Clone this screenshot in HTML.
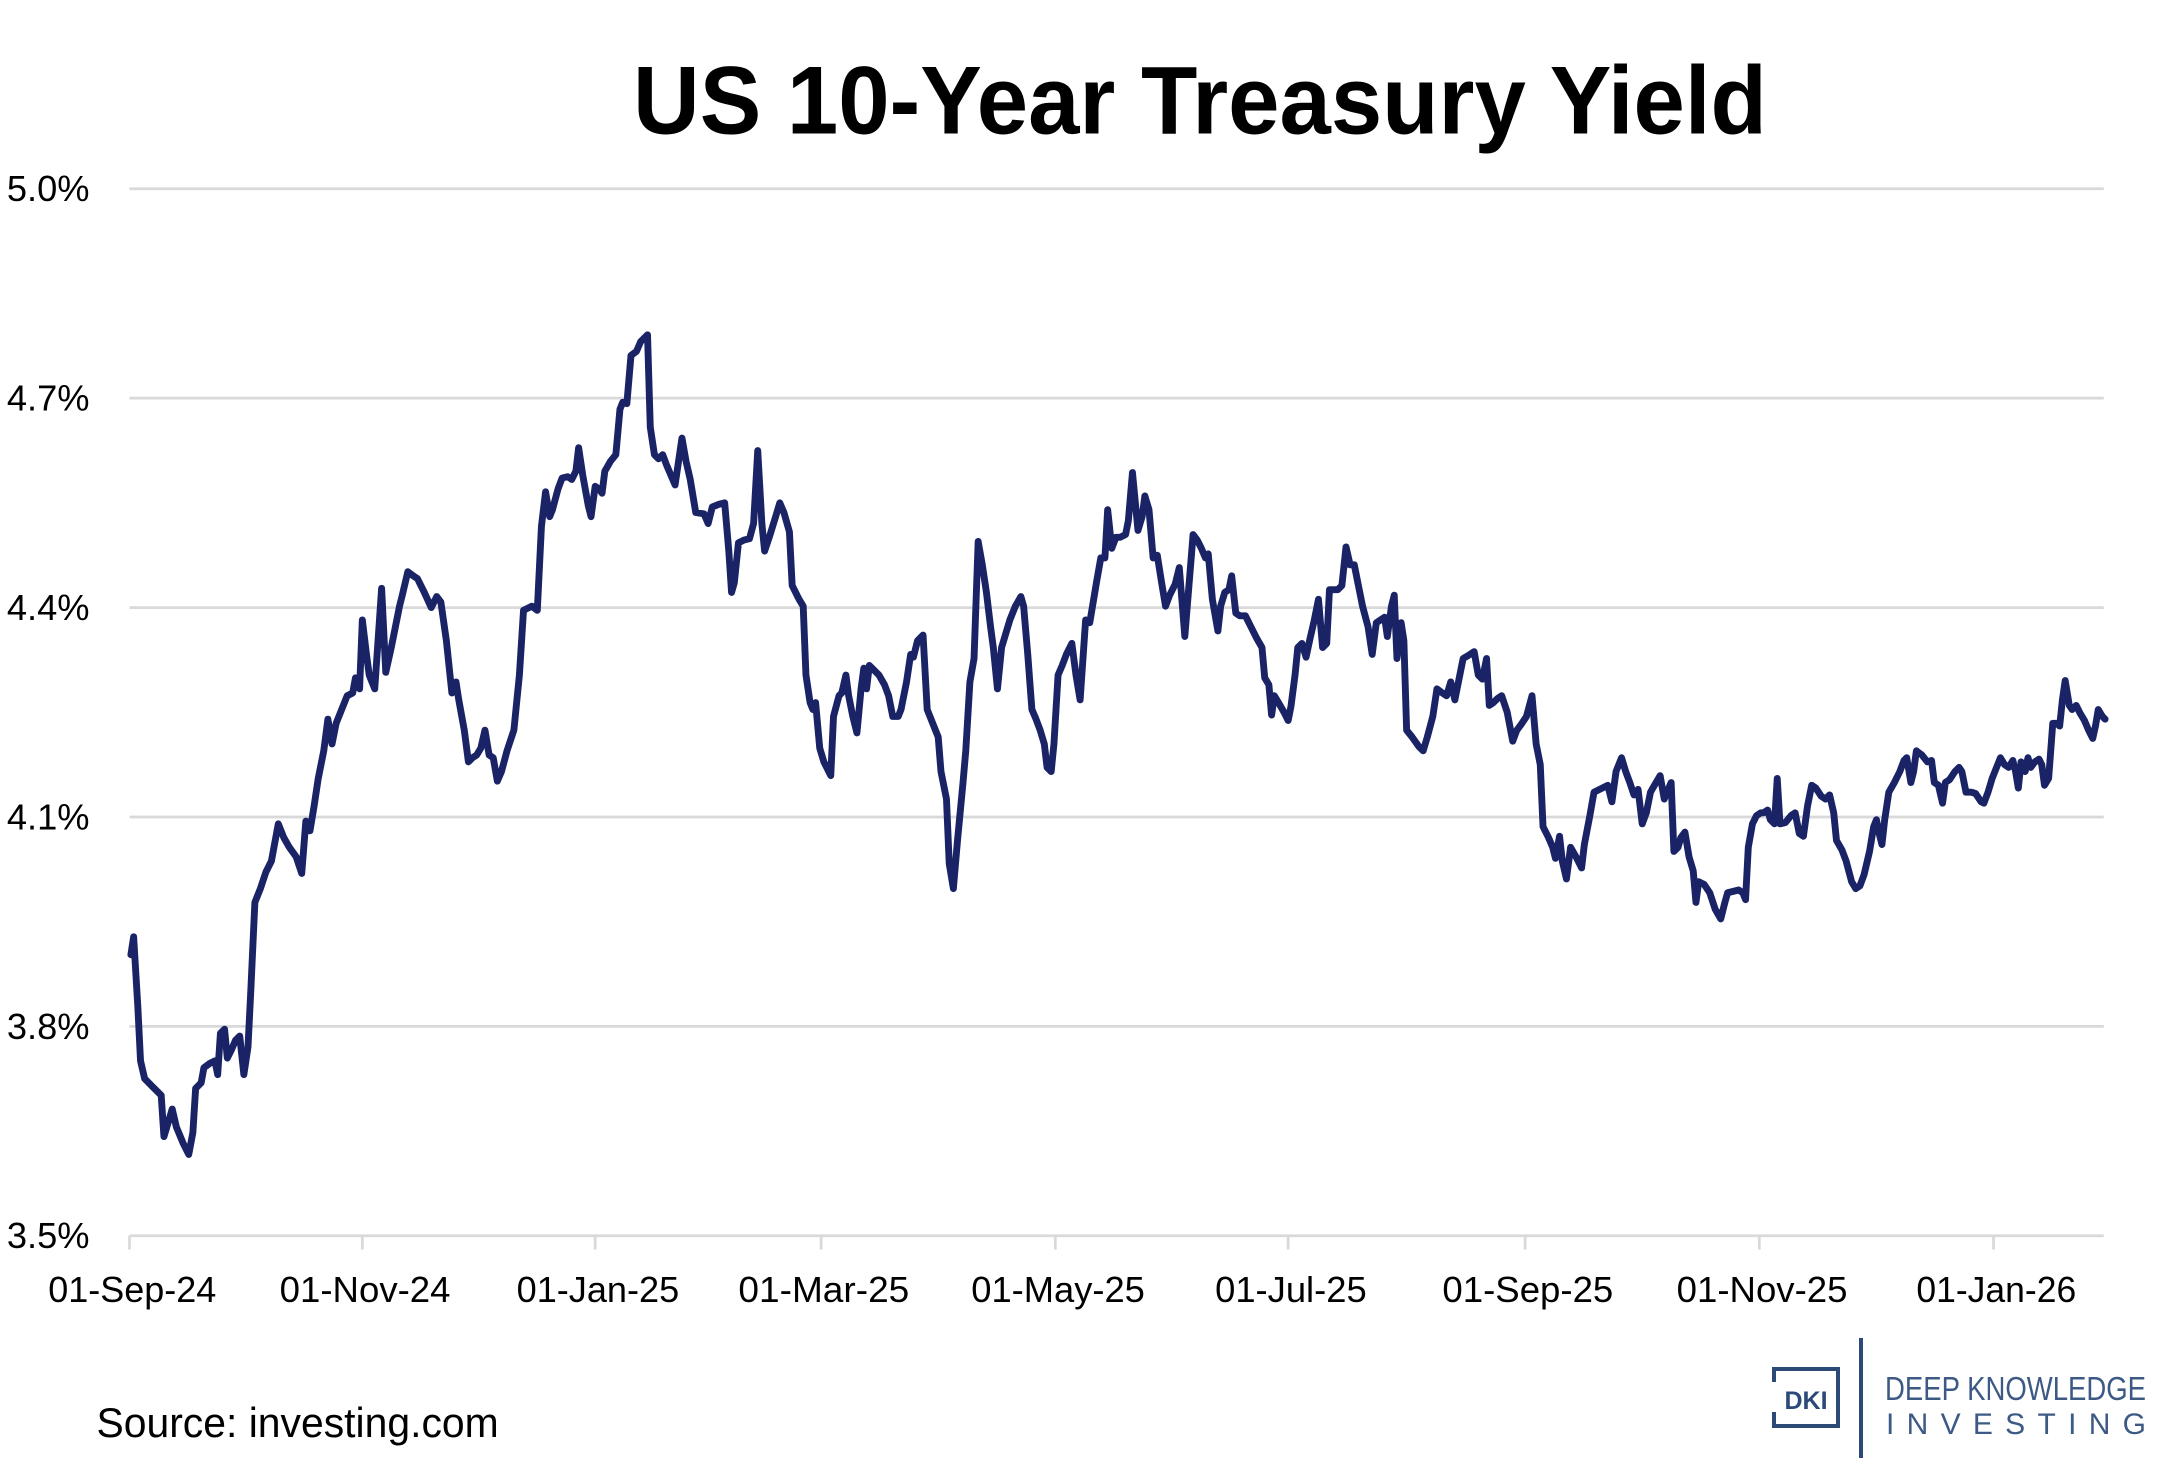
<!DOCTYPE html>
<html><head><meta charset="utf-8"><style>
html,body{margin:0;padding:0;background:#fff;width:2160px;height:1465px;overflow:hidden}
svg{display:block}
text{font-family:"Liberation Sans",sans-serif}
</style></head><body>
<svg width="2160" height="1465" viewBox="0 0 2160 1465" xmlns="http://www.w3.org/2000/svg">
<g transform="scale(1.3777)">
<text x="871" y="97" text-anchor="middle" font-size="70" font-weight="bold" textLength="823" lengthAdjust="spacingAndGlyphs" fill="#000">US 10-Year Treasury Yield</text>
<g stroke="#d9d9d9" stroke-width="2">
<line x1="94" y1="137" x2="1527" y2="137"/>
<line x1="94" y1="289" x2="1527" y2="289"/>
<line x1="94" y1="441" x2="1527" y2="441"/>
<line x1="94" y1="593" x2="1527" y2="593"/>
<line x1="94" y1="745" x2="1527" y2="745"/>
<line x1="94" y1="897" x2="1527" y2="897"/>
<line x1="94" y1="897" x2="94" y2="907"/>
<line x1="263" y1="897" x2="263" y2="907"/>
<line x1="432" y1="897" x2="432" y2="907"/>
<line x1="596" y1="897" x2="596" y2="907"/>
<line x1="766" y1="897" x2="766" y2="907"/>
<line x1="935" y1="897" x2="935" y2="907"/>
<line x1="1107" y1="897" x2="1107" y2="907"/>
<line x1="1277" y1="897" x2="1277" y2="907"/>
<line x1="1447" y1="897" x2="1447" y2="907"/>
</g>
<g font-size="26" fill="#000">
<text x="5" y="146" textLength="60" lengthAdjust="spacingAndGlyphs">5.0%</text>
<text x="5" y="298" textLength="60" lengthAdjust="spacingAndGlyphs">4.7%</text>
<text x="5" y="450" textLength="60" lengthAdjust="spacingAndGlyphs">4.4%</text>
<text x="5" y="602" textLength="60" lengthAdjust="spacingAndGlyphs">4.1%</text>
<text x="5" y="754" textLength="60" lengthAdjust="spacingAndGlyphs">3.8%</text>
<text x="5" y="906" textLength="60" lengthAdjust="spacingAndGlyphs">3.5%</text>
</g>
<g font-size="26" fill="#000" text-anchor="middle">
<text x="96" y="945" textLength="122" lengthAdjust="spacingAndGlyphs">01-Sep-24</text>
<text x="265" y="945" textLength="124" lengthAdjust="spacingAndGlyphs">01-Nov-24</text>
<text x="434" y="945" textLength="118" lengthAdjust="spacingAndGlyphs">01-Jan-25</text>
<text x="598" y="945" textLength="124" lengthAdjust="spacingAndGlyphs">01-Mar-25</text>
<text x="768" y="945" textLength="126" lengthAdjust="spacingAndGlyphs">01-May-25</text>
<text x="937" y="945" textLength="110" lengthAdjust="spacingAndGlyphs">01-Jul-25</text>
<text x="1109" y="945" textLength="124" lengthAdjust="spacingAndGlyphs">01-Sep-25</text>
<text x="1279" y="945" textLength="124" lengthAdjust="spacingAndGlyphs">01-Nov-25</text>
<text x="1449" y="945" textLength="116" lengthAdjust="spacingAndGlyphs">01-Jan-26</text>
</g>
<text x="70" y="1043" font-size="30" fill="#000" textLength="292" lengthAdjust="spacingAndGlyphs">Source: investing.com</text>
<polyline fill="none" stroke="#1a2366" stroke-width="5" stroke-linejoin="round" stroke-linecap="round" points="95,693 97,680 100,730 102,770 105,783 110,788 117,795 119,825 122,815 125,805 128,818 133,830 137,838 140,822 142,790 146,786 148,775 152,772 156,770 158,780 160,750 163,747 165,768 168,762 171,755 174,752 177,780 180,760 182,720 185,655 189,645 193,633 197,625 202,598 206,608 210,615 215,622 219,634 222,596 225,603 228,585 231,565 235,545 238,522 241,540 244,525 248,515 252,505 256,503 258,492 261,500 263,450 266,475 268,490 272,500 277,427 280,488 284,470 290,440 292,432 296,415 300,418 303,420 308,430 313,441 317,433 320,437 324,465 328,503 331,495 333,508 337,530 340,553 343,550 346,548 349,543 352,530 355,548 358,550 361,567 364,560 368,545 373,530 377,490 380,443 386,440 390,443 393,382 396,357 399,375 401,370 405,355 408,347 412,346 415,348 418,342 420,325 423,345 427,367 429,375 432,353 435,355 437,358 439,342 443,335 447,330 450,297 452,292 455,293 458,258 462,255 465,248 469,244 470,243 472,310 475,330 478,333 481,330 484,338 487,345 490,352 495,318 498,335 501,348 505,372 511,373 514,380 517,368 522,366 526,365 529,400 531,430 533,423 536,394 540,392 544,391 547,380 550,327 553,380 555,400 559,388 563,375 566,365 569,372 573,386 575,425 580,435 583,440 585,490 588,510 590,515 592,510 595,543 598,553 603,563 605,520 609,505 611,503 614,490 616,505 619,520 622,532 625,500 627,485 629,500 631,483 635,487 638,490 642,497 645,505 648,520 652,520 654,515 658,495 661,475 663,477 666,465 670,461 673,515 677,525 681,535 683,560 687,580 689,627 692,645 695,610 699,568 701,545 704,495 707,478 710,393 713,410 716,430 719,455 721,470 724,500 727,470 730,460 733,450 737,440 741,433 743,440 746,475 749,515 752,522 755,530 758,540 760,557 763,560 765,540 768,490 771,483 774,475 778,467 781,490 784,508 788,450 791,452 793,440 796,422 799,405 802,405 804,370 807,398 810,390 813,390 817,388 819,378 822,343 826,385 829,375 831,360 834,370 837,405 840,403 843,422 846,440 849,432 853,424 856,412 860,462 863,425 866,388 869,392 872,398 875,405 877,402 880,435 884,458 886,440 889,430 892,428 894,418 897,445 900,447 904,447 908,455 912,463 916,470 918,492 921,497 923,519 925,505 928,510 932,517 935,523 937,513 940,490 942,470 945,467 948,477 951,463 954,450 957,435 960,470 963,467 965,428 968,428 971,428 974,425 977,397 980,410 983,410 986,425 989,440 993,455 996,475 999,452 1002,450 1005,448 1007,462 1010,440 1012,432 1014,478 1017,452 1019,465 1021,530 1025,535 1030,542 1033,545 1036,535 1040,520 1043,500 1047,503 1050,505 1053,495 1056,508 1059,493 1062,478 1067,475 1070,473 1073,490 1076,493 1079,478 1081,512 1084,510 1087,507 1090,505 1094,517 1098,538 1101,530 1104,526 1108,520 1112,505 1115,540 1118,555 1120,600 1124,608 1127,615 1129,623 1132,607 1134,625 1137,638 1140,615 1144,622 1148,630 1150,613 1154,592 1157,575 1163,572 1167,570 1170,582 1173,560 1177,550 1180,560 1183,568 1186,577 1189,573 1192,598 1195,590 1198,575 1202,568 1205,563 1208,580 1210,575 1213,568 1215,618 1218,615 1220,608 1223,604 1226,622 1229,632 1231,655 1233,640 1237,642 1241,648 1245,660 1249,667 1252,655 1254,648 1258,647 1262,646 1265,648 1267,653 1269,615 1272,598 1275,592 1278,590 1280,590 1283,588 1285,595 1288,598 1290,565 1292,598 1296,597 1300,592 1303,590 1306,605 1309,607 1312,585 1315,570 1318,572 1322,578 1325,580 1328,577 1331,590 1333,610 1337,617 1340,625 1344,640 1347,645 1350,643 1353,635 1357,618 1360,600 1362,595 1364,605 1366,613 1368,595 1371,575 1375,568 1379,560 1382,552 1384,550 1387,568 1389,560 1391,545 1395,548 1399,553 1402,552 1404,568 1407,570 1410,583 1412,568 1415,566 1419,560 1422,557 1424,560 1427,575 1431,575 1434,576 1438,582 1440,583 1443,575 1446,565 1450,555 1452,550 1455,555 1458,557 1461,552 1463,560 1465,572 1467,553 1470,560 1472,550 1474,557 1477,553 1480,551 1482,555 1484,570 1487,565 1490,525 1493,525 1495,527 1497,508 1499,494 1502,512 1504,515 1507,512 1510,518 1513,523 1516,530 1519,536 1521,527 1523,515 1526,520 1528,522"/>
</g>
<g fill="none" stroke="#2b4a78" stroke-width="4">
<polyline points="1774,1382 1774,1369 1838,1369 1838,1426 1774,1426 1774,1412"/>
<line x1="1861" y1="1338" x2="1861" y2="1458" stroke-width="4"/>
</g>
<text x="1806" y="1409" text-anchor="middle" font-size="25" font-weight="bold" fill="#2b4a78">DKI</text>
<text x="1885" y="1400" font-size="33" fill="#3d5a85" textLength="261" lengthAdjust="spacingAndGlyphs">DEEP KNOWLEDGE</text>
<text x="1886" y="1434" font-size="30" fill="#3d5a85" textLength="260" lengthAdjust="spacing">INVESTING</text>
</svg>
</body></html>
